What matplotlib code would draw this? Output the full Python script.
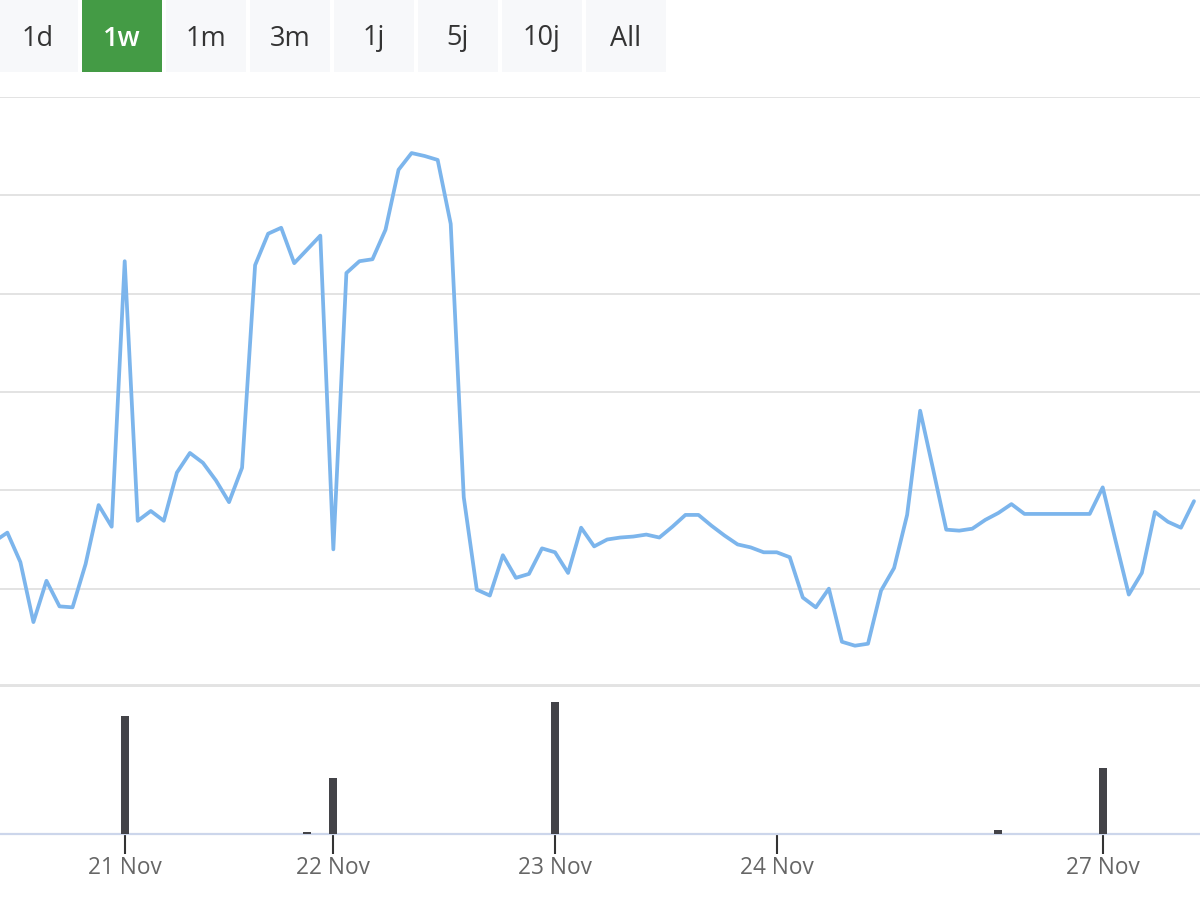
import matplotlib
matplotlib.use("Agg")
import matplotlib.pyplot as plt
from matplotlib.patches import Rectangle
import numpy as np

# price series, evenly spaced (ordinal axis, weekend removed); arbitrary units (gridline = 1)
price = [1.48, 1.57, 1.27, 0.66, 1.08, 0.82, 0.81, 1.25, 1.85, 1.63,
         4.33, 1.69, 1.79, 1.69, 2.18, 2.38, 2.28, 2.10, 1.88, 2.23,
         4.29, 4.61, 4.67, 4.31, 4.45, 4.59, 1.40, 4.21, 4.33, 4.35,
         4.65, 5.26, 5.43, 5.40, 5.36, 4.71, 1.93, 0.99, 0.93, 1.34,
         1.11, 1.15, 1.41, 1.37, 1.16, 1.62, 1.43, 1.50, 1.52, 1.53,
         1.55, 1.52, 1.63, 1.75, 1.75, 1.64, 1.54, 1.45, 1.42, 1.37,
         1.37, 1.32, 0.91, 0.81, 1.00, 0.46, 0.42, 0.44, 0.98, 1.21,
         1.75, 2.81, 2.21, 1.60, 1.59, 1.61, 1.70, 1.77, 1.86, 1.76,
         1.76, 1.76, 1.76, 1.76, 1.76, 2.03, 1.48, 0.94, 1.16, 1.78,
         1.68, 1.62, 1.89]

# volume bars: point index -> volume (arbitrary units)
vol_idx = [10, 24, 26, 43, 77, 85]
vol_val = [118, 2.3, 56, 132, 4.3, 66]

tick_idx = [10, 26, 43, 60, 85]
tick_labels = ["21 Nov", "22 Nov", "23 Nov", "24 Nov", "27 Nov"]

buttons = ["1d", "1w", "1m", "3m", "1j", "5j", "10j", "All"]
selected = "1w"

LINE = "#7cb5ec"
BAR = "#434348"
GRID = "#e3e3e3"
W, H = 1200, 900

plt.rcParams['font.family'] = ['Open Sans', 'DejaVu Sans']

fig = plt.figure(figsize=(12, 9), dpi=100)
fig.patch.set_facecolor("white")

def fx(px): return px / W
def fy(py): return 1 - py / H

x = np.arange(len(price))
xlim = (0.437, 92.46)

# price panel
ax = fig.add_axes([0, fy(687), 1, fy(97) - fy(687)])
ax.plot(x, price, color=LINE, lw=2.7, solid_joinstyle='round', solid_capstyle='round', zorder=3)
ax.set_xlim(*xlim); ax.set_ylim(0, 6)
ax.set_yticks(range(1, 7))
ax.grid(True, axis='y', color=GRID, lw=1.4)
ax.tick_params(left=False, bottom=False, labelleft=False, labelbottom=False)
for s in ax.spines.values(): s.set_visible(False)
ax.axhline(0.01, color=GRID, lw=3.5, clip_on=False, zorder=1)

# volume panel
axv = fig.add_axes([0, fy(834), 1, fy(687) - fy(834)], sharex=ax)
axv.bar(vol_idx, vol_val, width=0.6, color=BAR, zorder=3)
axv.set_ylim(0, 147)
axv.set_yticks([])
for name, s in axv.spines.items():
    s.set_visible(name == 'bottom')
axv.spines['bottom'].set_color('#ccd6eb')
axv.spines['bottom'].set_linewidth(1.6)
axv.set_xticks(tick_idx)
axv.set_xticklabels(tick_labels)
axv.tick_params(axis='x', direction='out', length=14.5, width=1.5, color='#333333',
                labelcolor='#666666', labelsize=16.3, pad=1)
axv.tick_params(axis='y', left=False)
axv.set_xlim(*xlim)

# range selector buttons
for k, b in enumerate(buttons):
    x0 = -2 + 84 * k
    on = b == selected
    fig.add_artist(Rectangle((fx(x0), fy(72)), fx(80), 72 / H, transform=fig.transFigure,
                             facecolor='#449b45' if on else '#f7f8fa', edgecolor='none'))
    fig.text(fx(x0 + 40), fy(38.5), b, ha='center', va='center', fontsize=19.5,
             color='white' if on else '#333333', fontweight='semibold' if on else 'normal')

fig.savefig("out.png", dpi=100)
